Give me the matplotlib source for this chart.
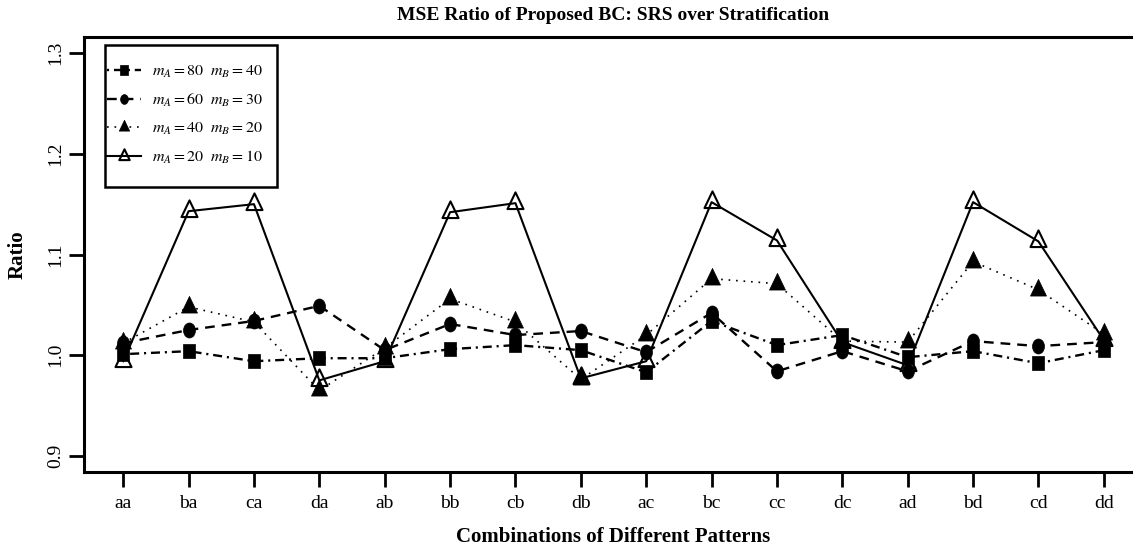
import numpy as np
import matplotlib
matplotlib.use("Agg")
import matplotlib.pyplot as plt
from matplotlib.path import Path
from matplotlib.transforms import Affine2D
from matplotlib.patches import Rectangle

# Pattern combinations along the x axis
combos = ["aa", "ba", "ca", "da", "ab", "bb", "cb", "db",
          "ac", "bc", "cc", "dc", "ad", "bd", "cd", "dd"]

# MSE ratio (SRS / stratification) for each sample-size setting
ratio_80_40 = [1.001, 1.004, 0.994, 0.997, 0.997, 1.006, 1.010, 1.005,
               0.983, 1.034, 1.010, 1.020, 0.998, 1.004, 0.992, 1.005]
ratio_60_30 = [1.012, 1.025, 1.034, 1.049, 1.005, 1.031, 1.020, 1.024,
               1.003, 1.042, 0.984, 1.004, 0.984, 1.014, 1.009, 1.013]
ratio_40_20 = [1.012, 1.048, 1.033, 0.965, 1.007, 1.056, 1.033, 0.976,
               1.020, 1.076, 1.071, 1.014, 1.013, 1.093, 1.065, 1.021]
ratio_20_10 = [0.994, 1.143, 1.150, 0.975, 0.994, 1.142, 1.151, 0.977,
               0.994, 1.152, 1.114, 1.013, 0.990, 1.152, 1.113, 1.015]

series_labels = [r"$m_A = 80\ \ m_B = 40$", r"$m_A = 60\ \ m_B = 30$",
                 r"$m_A = 40\ \ m_B = 20$", r"$m_A = 20\ \ m_B = 10$"]

y_ticks = [0.9, 1.0, 1.1, 1.2, 1.3]
y_tick_labels = ["0.9", "1.0", "1.1", "1.2", "1.3"]

plt.rcParams["font.family"] = ["Liberation Serif", "DejaVu Serif"]
plt.rcParams["mathtext.fontset"] = "stix"
plt.rcParams["lines.scale_dashes"] = False

W, H = 1133, 547
fig = plt.figure(figsize=(W / 100, H / 100), dpi=100)
# plot region in pixels (the right edge runs past the canvas)
p_left, p_right, p_top, p_bottom = 84, 1143, 37, 472
ax = fig.add_axes([p_left / W, 1 - p_bottom / H,
                   (p_right - p_left) / W, (p_bottom - p_top) / H])

x = np.arange(1, len(combos) + 1)

# R-style marker shapes
sq_marker = Path([(-0.42, -0.5), (0.42, -0.5), (0.42, 0.5), (-0.42, 0.5), (-0.42, -0.5)],
                 closed=True)
ell_marker = Affine2D().scale(0.8, 1.0).transform_path(Path.unit_circle())
tri_marker = Path([(0, 1.0), (-0.72, -0.5), (0.72, -0.5), (0, 1.0)], closed=True)

dotdash = (0, (1.5, 3.5, 6.5, 3.5))
dashed = (0, (7, 5))
dotted = (0, (1.2, 4.2))

h4, = ax.plot(x, ratio_20_10, color="black", lw=1.5, ls="-",
              marker=tri_marker, ms=16, mfc="none", mec="black", mew=1.5,
              label=series_labels[3], zorder=2)
h1, = ax.plot(x, ratio_80_40, color="black", lw=1.7, ls=dotdash,
              marker=sq_marker, ms=10.6, mfc="black", mec="black", mew=0.5,
              label=series_labels[0], zorder=3)
h2, = ax.plot(x, ratio_60_30, color="black", lw=1.7, ls=dashed,
              marker=ell_marker, ms=10.8, mfc="black", mec="black", mew=0.5,
              label=series_labels[1], zorder=4)
h3, = ax.plot(x, ratio_40_20, color="black", lw=1.2, ls=dotted,
              marker=tri_marker, ms=16, mfc="black", mec="black", mew=0.5,
              label=series_labels[2], zorder=5)

ax.set_xlim(0.4, 16.6)
ax.set_ylim(0.884, 1.316)
ax.set_xticks(x, combos)
ax.set_yticks(y_ticks, y_tick_labels)
ax.tick_params(direction="out", length=10.8, width=2, labelsize=14,
               top=False, right=False)
ax.tick_params(axis="x", pad=5.5)
ax.tick_params(axis="y", pad=3.5)
for lbl in ax.get_yticklabels():
    lbl.set_rotation(90)
    lbl.set_va("center")
    lbl.set_ha("right")
for sp in ax.spines.values():
    sp.set_linewidth(2.2)

ax.set_title("MSE Ratio of Proposed BC: SRS over Stratification",
             fontsize=14, fontweight="bold", pad=12)
ax.set_xlabel("Combinations of Different Patterns", fontsize=15,
              fontweight="bold", labelpad=11)
ax.set_ylabel("Ratio", fontsize=15, fontweight="bold")
ax.yaxis.set_label_coords((28 - p_left) / (p_right - p_left), 0.5)

# legend box
bx0, by0, bx1, by1 = 105, 45, 277, 187
ax.add_patch(Rectangle(((bx0 - p_left) / (p_right - p_left),
                        (p_bottom - by1) / (p_bottom - p_top)),
                       (bx1 - bx0) / (p_right - p_left),
                       (by1 - by0) / (p_bottom - p_top),
                       transform=ax.transAxes, facecolor="white",
                       edgecolor="black", lw=1.8, zorder=6))
leg = ax.legend(handles=[h1, h2, h3, h4], loc="upper left",
                bbox_to_anchor=(107 / W, 1 - 64 / H),
                bbox_transform=fig.transFigure, frameon=False,
                fontsize=11.5, markerscale=0.65, handlelength=2.1,
                handletextpad=0.72, labelspacing=0.74, borderpad=0,
                borderaxespad=0)
leg.set_zorder(7)

fig.savefig("out.png", dpi=100)
